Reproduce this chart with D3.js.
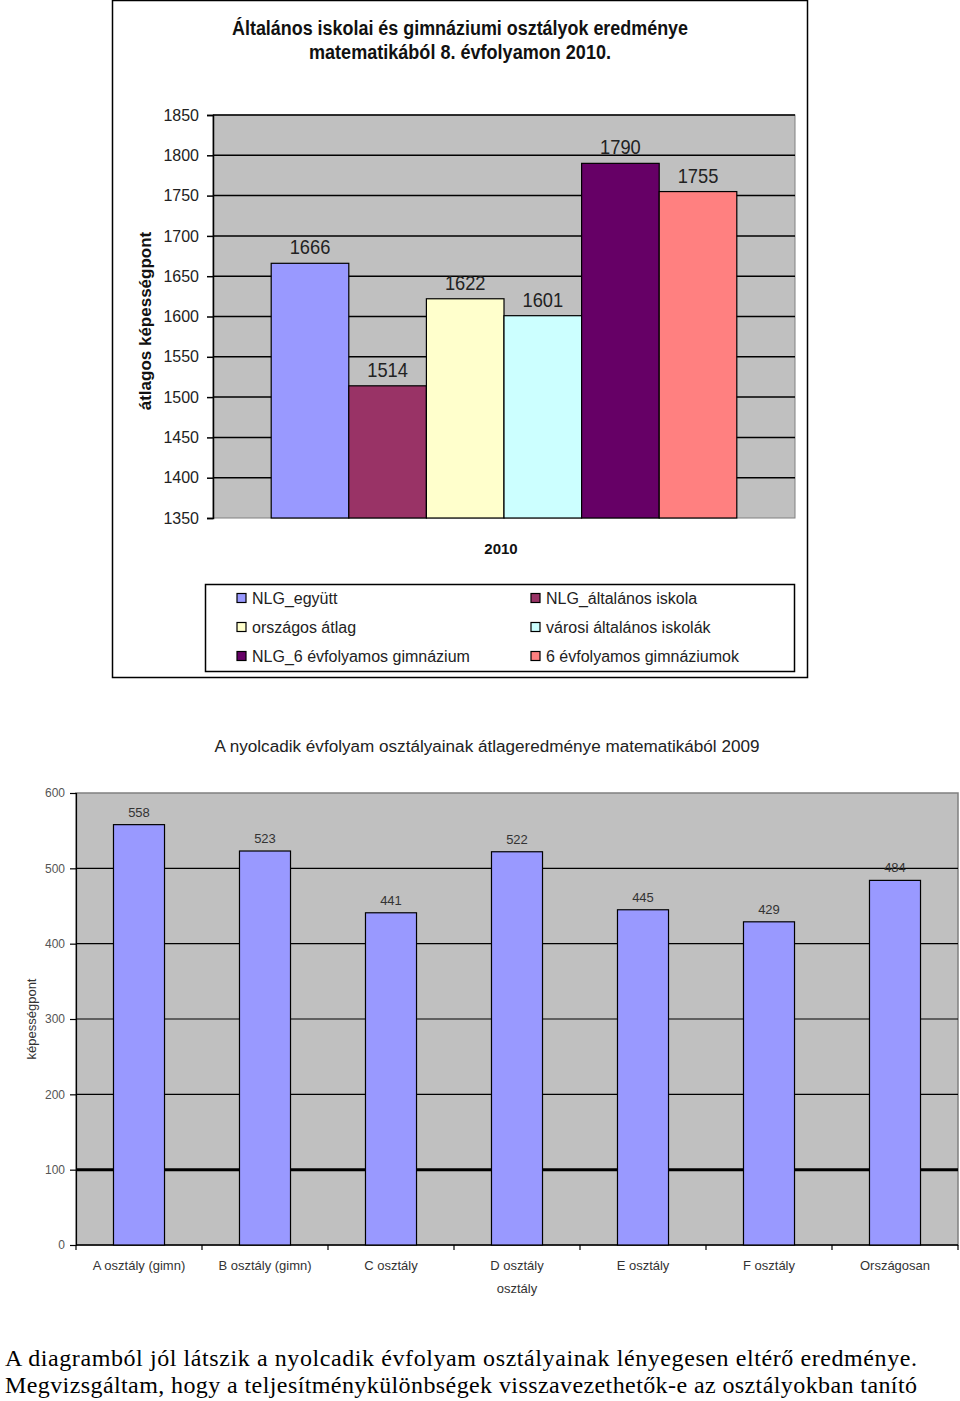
<!DOCTYPE html>
<html><head><meta charset="utf-8">
<script src="https://cdn.jsdelivr.net/npm/d3@7"></script>
<style>body{margin:0;background:#fff}svg{display:block}</style>
</head><body>
<svg id="c" width="960" height="1401"></svg>
<script>
// ---- Chart 1 data ----
const c1Title = ["Általános iskolai és gimnáziumi osztályok eredménye", "matematikából 8. évfolyamon 2010."];
const c1Category = ["2010"];
const c1Series = ["NLG_együtt", "NLG_általános iskola", "országos átlag", "városi általános iskolák", "NLG_6 évfolyamos gimnázium", "6 évfolyamos gimnáziumok"];
const c1Values = [1666, 1514, 1622, 1601, 1790, 1755];
const c1Colors = ["#9999FF", "#993366", "#FFFFCC", "#CCFFFF", "#660066", "#FF8080"];
const c1Ticks = [1350, 1400, 1450, 1500, 1550, 1600, 1650, 1700, 1750, 1800, 1850];
const c1YTitle = "átlagos képességpont";

// ---- Chart 2 data ----
const c2Title = "A nyolcadik évfolyam osztályainak átlageredménye matematikából 2009";
const c2Categories = ["A osztály (gimn)", "B osztály (gimn)", "C osztály", "D osztály", "E osztály", "F osztály", "Országosan"];
const c2Values = [558, 523, 441, 522, 445, 429, 484];
const c2Ticks = [0, 100, 200, 300, 400, 500, 600];
const c2YTitle = "képességpont";
const c2XTitle = "osztály";

const bodyText = [
  "A diagramból jól látszik a nyolcadik évfolyam osztályainak lényegesen eltérő eredménye.",
  "Megvizsgáltam, hogy a teljesítménykülönbségek visszavezethetők-e az osztályokban tanító"
];

const svg = d3.select("#c");
const SANS = "'Liberation Sans',Arial,sans-serif";

function condense(sel, f){
  sel.each(function(){
    const n = this.getComputedTextLength();
    d3.select(this).attr("textLength", n*f).attr("lengthAdjust","spacingAndGlyphs");
  });
  return sel;
}

// ================= Chart 1 =================
const g1 = svg.append("g");
g1.append("rect").attr("x",112.5).attr("y",0.5).attr("width",695).attr("height",677)
  .attr("fill","#fff").attr("stroke","#000").attr("stroke-width",1.5);

c1Title.forEach((t,i)=>{
  g1.append("text").attr("x",460).attr("y",[35,59][i]).attr("text-anchor","middle")
    .attr("font-family",SANS).attr("font-weight","bold").attr("font-size",20).attr("fill","#111")
    .attr("textLength",[456,302][i]).attr("lengthAdjust","spacingAndGlyphs").text(t);
});

const p1 = {l:213, r:795, t:115, b:518};
const y1 = d3.scaleLinear().domain([1350,1850]).range([p1.b,p1.t]);
const x1 = d3.scaleBand().domain(c1Category).range([p1.l,p1.r]).paddingInner(0).paddingOuter(0.125);
const xs1 = d3.scaleBand().domain(c1Series).range([0,x1.bandwidth()]).padding(0);

g1.append("rect").attr("x",p1.l).attr("y",p1.t).attr("width",p1.r-p1.l).attr("height",p1.b-p1.t)
  .attr("fill","#C0C0C0").attr("stroke","#808080").attr("stroke-width",1);

g1.append("g").selectAll("line").data(c1Ticks.slice(1)).join("line")
  .attr("x1",p1.l).attr("x2",p1.r).attr("y1",d=>y1(d)).attr("y2",d=>y1(d))
  .attr("stroke","#000").attr("stroke-width",1.5);

const ax1 = g1.append("g").attr("transform",`translate(${p1.l},0)`)
  .call(d3.axisLeft(y1).tickValues(c1Ticks).tickSize(6).tickPadding(8).tickFormat(d3.format("d")));
ax1.select(".domain").attr("stroke","#000").attr("stroke-width",1.5);
ax1.selectAll(".tick line").attr("stroke","#000").attr("stroke-width",1.5);
ax1.selectAll("text").attr("font-family",SANS).attr("font-size",16).attr("fill","#222");

g1.append("g").selectAll("rect").data(c1Values).join("rect")
  .attr("x",(d,i)=>x1("2010")+xs1(c1Series[i]))
  .attr("y",d=>y1(d)).attr("width",xs1.bandwidth()).attr("height",d=>p1.b-y1(d))
  .attr("fill",(d,i)=>c1Colors[i]).attr("stroke","#000").attr("stroke-width",1.2);

const vl1 = g1.append("g").selectAll("text").data(c1Values).join("text")
  .attr("x",(d,i)=>x1("2010")+xs1(c1Series[i])+xs1.bandwidth()/2)
  .attr("y",d=>y1(d)-9).attr("text-anchor","middle")
  .attr("font-family",SANS).attr("font-size",21).attr("fill","#222").text(d=>d);
condense(vl1, 0.87);

g1.append("text").attr("x",501).attr("y",554).attr("text-anchor","middle")
  .attr("font-family",SANS).attr("font-weight","bold").attr("font-size",15).attr("fill","#111").text(c1Category[0]);

g1.append("text").attr("transform","translate(151,321) rotate(-90)").attr("text-anchor","middle")
  .attr("font-family",SANS).attr("font-weight","bold").attr("font-size",17).attr("fill","#111").text(c1YTitle);

// legend
g1.append("rect").attr("x",205.5).attr("y",584.5).attr("width",589).attr("height",87)
  .attr("fill","#fff").attr("stroke","#000").attr("stroke-width",1.5);
const lg = g1.append("g").selectAll("g").data(c1Series).join("g")
  .attr("transform",(d,i)=>`translate(${i%2===0?237:531},${[598,627,656][Math.floor(i/2)]})`);
lg.append("rect").attr("x",0).attr("y",-4.5).attr("width",9).attr("height",9)
  .attr("fill",(d,i)=>c1Colors[i]).attr("stroke","#000").attr("stroke-width",1.2);
lg.append("text").attr("x",15).attr("y",5.5).attr("font-family",SANS).attr("font-size",16)
  .attr("fill","#222").text(d=>d);

// ================= Chart 2 =================
const g2 = svg.append("g");
g2.append("text").attr("x",487).attr("y",752).attr("text-anchor","middle")
  .attr("font-family",SANS).attr("font-size",16).attr("fill","#222")
  .attr("textLength",545).attr("lengthAdjust","spacingAndGlyphs").text(c2Title);

const p2 = {l:76, r:958, t:793, b:1245};
const y2 = d3.scaleLinear().domain([0,600]).range([p2.b,p2.t]);
const x2 = d3.scaleBand().domain(c2Categories).range([p2.l,p2.r]).paddingInner(0.595).paddingOuter(0.2975);

g2.append("rect").attr("x",p2.l).attr("y",p2.t).attr("width",p2.r-p2.l).attr("height",p2.b-p2.t)
  .attr("fill","#C0C0C0").attr("stroke","#808080").attr("stroke-width",1.5);

g2.append("g").selectAll("line").data(c2Ticks.filter(d=>d>0&&d<600)).join("line")
  .attr("x1",p2.l).attr("x2",p2.r).attr("y1",d=>y2(d)).attr("y2",d=>y2(d))
  .attr("stroke","#000").attr("stroke-width",d=>d===100?3:1.2);

const ay2 = g2.append("g").attr("transform",`translate(${p2.l},0)`)
  .call(d3.axisLeft(y2).tickValues(c2Ticks).tickSize(6).tickPadding(5).tickFormat(d3.format("d")));
ay2.select(".domain").attr("stroke","#000").attr("stroke-width",1.2);
ay2.selectAll(".tick line").attr("stroke","#000").attr("stroke-width",1.2);
ay2.selectAll("text").attr("font-family",SANS).attr("font-size",12).attr("fill","#555");

const xb = d3.scaleLinear().domain([0,c2Categories.length]).range([p2.l,p2.r]);
g2.append("line").attr("x1",p2.l).attr("x2",p2.r).attr("y1",p2.b).attr("y2",p2.b).attr("stroke","#000").attr("stroke-width",1.5);
g2.append("g").selectAll("line").data(d3.range(c2Categories.length+1)).join("line")
  .attr("x1",d=>xb(d)).attr("x2",d=>xb(d)).attr("y1",p2.b).attr("y2",p2.b+5)
  .attr("stroke","#000").attr("stroke-width",1.2);

g2.append("g").selectAll("rect").data(c2Values).join("rect")
  .attr("x",(d,i)=>x2(c2Categories[i])).attr("y",d=>y2(d))
  .attr("width",x2.bandwidth()).attr("height",d=>p2.b-y2(d))
  .attr("fill","#9999FF").attr("stroke","#000").attr("stroke-width",1.2);

g2.append("g").selectAll("text").data(c2Values).join("text")
  .attr("x",(d,i)=>x2(c2Categories[i])+x2.bandwidth()/2).attr("y",d=>y2(d)-8)
  .attr("text-anchor","middle").attr("font-family",SANS).attr("font-size",13).attr("fill","#333").text(d=>d);

g2.append("g").selectAll("text").data(c2Categories).join("text")
  .attr("x",d=>x2(d)+x2.bandwidth()/2).attr("y",1270).attr("text-anchor","middle")
  .attr("font-family",SANS).attr("font-size",13).attr("fill","#333").text(d=>d);

g2.append("text").attr("x",517).attr("y",1293).attr("text-anchor","middle")
  .attr("font-family",SANS).attr("font-size",13).attr("fill","#333").text(c2XTitle);

g2.append("text").attr("transform","translate(36,1019) rotate(-90)").attr("text-anchor","middle")
  .attr("font-family",SANS).attr("font-size",13).attr("fill","#333").text(c2YTitle);

// ================= Body text =================
bodyText.forEach((t,i)=>{
  svg.append("text").attr("x",5).attr("y",[1366,1393][i])
    .attr("font-family","'Liberation Serif','Times New Roman',serif").attr("font-size",24)
    .attr("fill","#000").attr("textLength",912).attr("lengthAdjust","spacing").text(t);
});
</script>
</body></html>
